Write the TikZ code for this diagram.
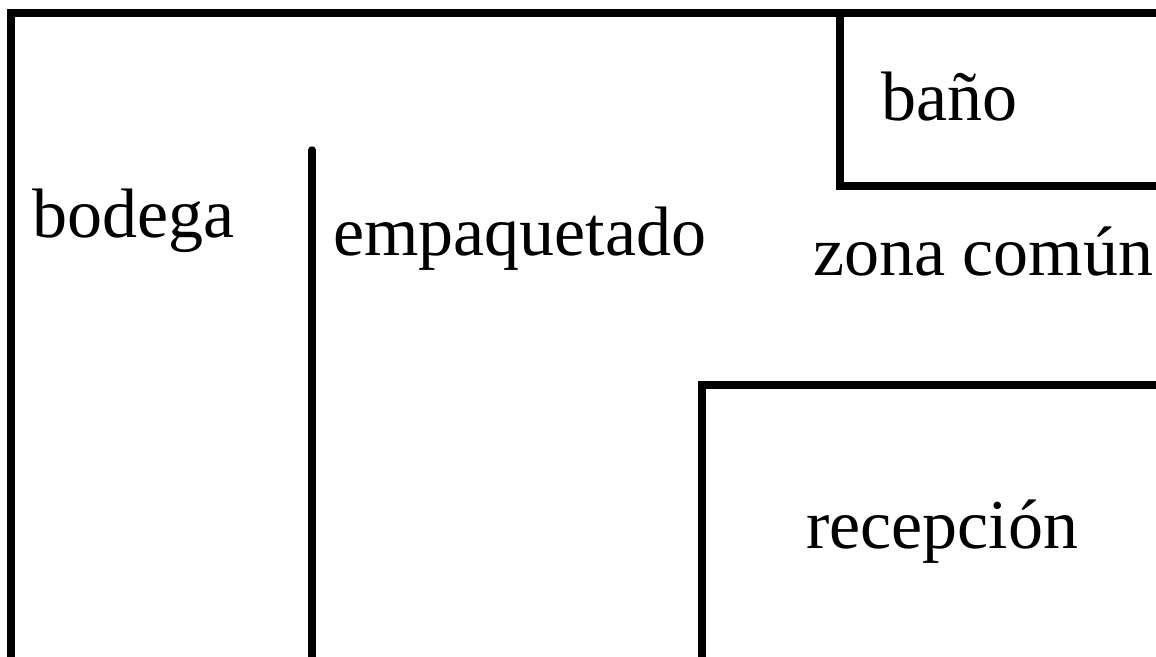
\documentclass[tikz,border=0pt]{standalone}
\usepackage{fontspec}
\setmainfont{Liberation Serif}

\tikzset{
  wall/.style={line width=7.5pt},
  room/.style={anchor=base west, inner sep=0pt, font=\fontsize{70}{82}\selectfont}
}

\begin{document}
\begin{tikzpicture}[x=1pt, y=-1pt]
		\useasboundingbox (0,0) rectangle (1156,656);
		\clip (0,0) rectangle (1156,656);
		% walls
		\draw[wall](1170,13)--(11,13)--(11,670);
		\draw[wall, line cap=round](312,150)--(312,670);
		\draw[wall](840,13)--(840,186)--(1170,186);
		\draw[wall](702,670)--(702,385)--(1170,385);
		% rooms
		\node[room] (bodega) at (32,237) {bodega};
		\node[room] (empaquetado) at (333,255) {empaquetado};
		\node[room] (bano) at (881,120) {baño};
		\node[room] (zona) at (813,275) {zona común};
		\node[room] (recepcion) at (806,548) {recepción};
		\end{tikzpicture}
\end{document}
